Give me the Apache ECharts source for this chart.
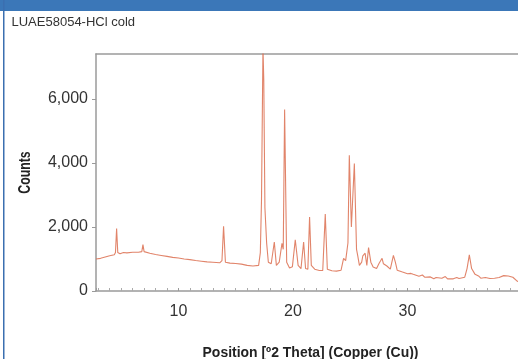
<!DOCTYPE html>
<html>
<head>
<meta charset="utf-8">
<script src="https://cdn.jsdelivr.net/npm/echarts@6/dist/echarts.min.js"></script>
<style>
html,body{margin:0;padding:0;background:#fff;}
#c{width:518px;height:359px;}
</style>
</head>
<body>
<div id="c"></div>
<script>
var subtitle = 'LUAE58054-HCl cold';
var xTitle = 'Position [\u00BA2 Theta] (Copper (Cu))';
var yTitle = 'Counts';
var yTicks = [0, 2000, 4000, 6000];
var xTicks = [10, 20, 30];

var twoTheta = [2.8,3.2,3.6,4.0,4.4,4.5,4.6,4.7,4.9,5.2,5.5,6.0,6.5,6.8,6.9,7.0,7.5,8.0,8.5,9.0,9.5,10.0,10.5,11.0,11.5,12.0,12.5,13.0,13.6,13.8,13.94,14.1,14.5,15.0,15.5,16.0,16.5,17.0,17.15,17.25,17.38,17.45,17.55,17.7,17.85,18.1,18.37,18.55,18.8,19.04,19.15,19.27,19.45,19.7,19.95,20.2,20.45,20.7,20.93,21.1,21.3,21.45,21.6,21.9,22.3,22.6,22.82,23.0,23.4,23.8,24.2,24.42,24.6,24.8,24.92,25.1,25.36,25.55,25.65,25.8,26.0,26.1,26.3,26.45,26.6,26.8,27.0,27.3,27.5,27.78,27.9,28.2,28.5,28.77,28.94,29.1,29.5,30.0,30.3,30.5,31.0,31.3,31.5,32.0,32.3,32.5,33.0,33.3,33.5,34.0,34.3,34.5,35.0,35.2,35.4,35.6,35.9,36.2,36.4,36.8,37.2,37.6,38.0,38.4,38.8,39.2,39.6,40.0];
var counts = [1000,1020,1060,1100,1130,1200,1950,1200,1160,1200,1190,1210,1210,1230,1450,1230,1180,1140,1110,1080,1050,1030,1000,980,950,930,910,900,880,950,2020,900,870,860,840,800,780,800,1200,2800,7600,6600,2600,1500,900,850,1530,800,900,1490,1300,5670,900,720,760,1600,800,700,1530,700,680,2310,800,680,640,640,2400,680,630,620,650,1020,950,1500,4240,2000,3980,1300,1115,800,900,1100,1180,800,1355,900,750,700,850,1020,850,780,680,1115,900,650,600,540,550,520,460,500,430,440,380,420,400,450,380,380,420,390,430,700,1130,700,520,470,400,420,390,400,420,480,470,430,300,320];

var data = twoTheta.map(function(x, i){ return [x, counts[i]]; });

var chart = echarts.init(document.getElementById('c'), null, {renderer:'canvas'});
var numFont = '"Liberation Sans", Arial, sans-serif';
var axisGray = '#9a9a9a';
chart.setOption({
  animation: false,
  backgroundColor: '#fff',
  toolbox: {show: false},
  grid: {left: 96, top: 54, right: 0, bottom: 68, show: false},
  xAxis: [{
    type: 'value', min: 2.8, max: 39.65,
    axisLine: {show: true, lineStyle: {color: axisGray, width: 1.5}},
    axisTick: {show: true, inside: true, length: 3, lineStyle: {color: axisGray}},
    minorTick: {show: true, splitNumber: 10, length: 3, lineStyle: {color: '#aaa'}},
    splitLine: {show: false},
    axisLabel: {
      showMinLabel: false, showMaxLabel: false, margin: 13,
      color: '#333', fontSize: 16, fontFamily: numFont,
      formatter: function(v){ return xTicks.indexOf(v) >= 0 ? String(v) : ''; }
    }
  }, {
    type: 'value', min: 2.8, max: 39.65, position: 'top',
    axisLine: {show: true, onZero: false, lineStyle: {color: axisGray, width: 1.5}},
    axisTick: {show: false}, axisLabel: {show: false}, splitLine: {show: false}
  }],
  yAxis: {
    type: 'value', min: 0, max: 7400, interval: 2000,
    axisLine: {show: true, lineStyle: {color: axisGray, width: 1.5}},
    axisTick: {show: true, length: 4, lineStyle: {color: axisGray}},
    splitLine: {show: false},
    axisLabel: {
      showMaxLabel: false, margin: 8,
      color: '#333', fontSize: 16, fontFamily: numFont,
      formatter: function(v){ return yTicks.indexOf(v) >= 0 ? v.toLocaleString('en-US') : ''; }
    }
  },
  series: [{
    type: 'line', data: data, showSymbol: false, symbol: 'none', xAxisIndex: 0,
    lineStyle: {color: '#dc6e50', width: 1.1, opacity: 0.85},
    clip: true
  }],
  graphic: [
    {type: 'rect', shape: {x: 150, y: 11, width: 368, height: 41}, style: {fill: '#fff'}, z: 99},
    {type: 'rect', shape: {x: 0, y: 0, width: 518, height: 11}, style: {fill: '#3b77b8'}, z: 100},
    {type: 'rect', shape: {x: 3, y: 0, width: 1.5, height: 359}, style: {fill: '#3b6fb0'}, z: 100},
    {type: 'text', x: 11.5, y: 22, style: {text: subtitle, fill: '#333', font: '13px "Liberation Sans", Arial, sans-serif', textVerticalAlign: 'middle'}, z: 100},
    {type: 'text', x: 310.5, y: 352.5, scaleX: 0.93, style: {text: xTitle, fill: '#222', font: 'bold 15px "Liberation Sans", Arial, sans-serif', textAlign: 'center', textVerticalAlign: 'middle'}, z: 100},
    {type: 'text', x: 25, y: 172.5, rotation: Math.PI / 2, scaleX: 0.82, scaleY: 1.1, style: {text: yTitle, fill: '#222', font: 'bold 15px "Liberation Sans", Arial, sans-serif', textAlign: 'center', textVerticalAlign: 'middle'}, z: 100}
  ]
});
</script>
</body>
</html>
